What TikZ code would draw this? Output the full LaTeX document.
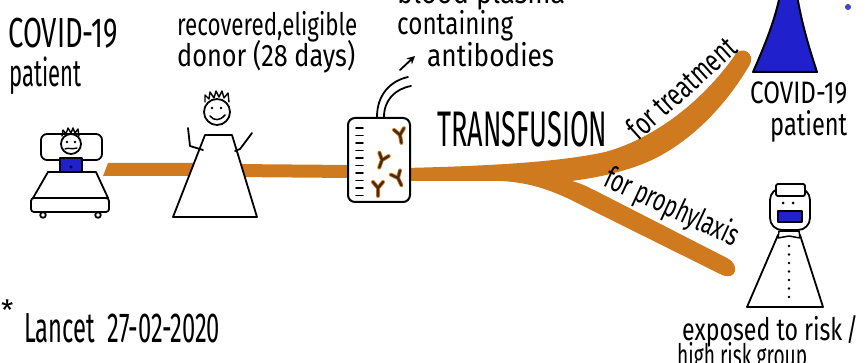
\documentclass[tikz,border=0pt]{standalone}
\usepackage{fontspec}
\setmainfont{Fira Sans}
\usetikzlibrary{arrows.meta}
\definecolor{band}{RGB}{208,122,32}
\definecolor{shirt}{RGB}{32,32,205}
\definecolor{abbrown}{RGB}{70,42,18}
\newcommand\fs[1]{\fontsize{#1}{#1}\selectfont}
\newcommand\fitw[2]{\resizebox{#1}{\height}{#2}}
% one antibody (a small Y) at x, y, turned by an angle
\newcommand\antibody[3]{%
  \begin{scope}[shift={(#1,#2)},rotate=#3]
    \draw[band,line width=4pt,line cap=round] (0,0)--(0,8) (0,0)--(-5,-6) (0,0)--(5,-6);
    \draw[abbrown,line width=2.3pt,line cap=round] (0,0)--(0,8) (0,0)--(-5,-6) (0,0)--(5,-6);
  \end{scope}}
\begin{document}
\begin{tikzpicture}[x=1pt,y=-1pt,
  ink/.style={draw=black,line width=1.8pt,line cap=round,line join=round},
  lbl/.style={inner sep=0pt,anchor=base west,text=black}]
\useasboundingbox (0,0) rectangle (866,363);
\clip (0,0) rectangle (866,363);
\fill[white] (0,0) rectangle (866,363);

% ---------- orange transfusion line ----------
\fill[band] (103,176) -- (108,163) -- (205,163) -- (205,176) -- cycle;
\fill[band] (232,164) -- (352,165) -- (352,178) -- (232,177) -- cycle;
\fill[band] (405,168)
  .. controls (490,166) and (560,162) .. (605,152)
  .. controls (650,140) and (700,105) .. (735,55)
  .. controls (741,45) and (757,53) .. (749,66)
  .. controls (720,115) and (680,150) .. (640,165)
  .. controls (610,176) and (585,179) .. (572,181)
  .. controls (582,184) .. (600,193)
  -- (727,258)
  .. controls (740,264) and (737,281) .. (722,275)
  -- (567,198)
  .. controls (545,188) and (525,182) .. (500,181)
  -- (405,181) -- cycle;

% ---------- patient in bed ----------
\draw[ink,fill=white,rounded corners=6pt] (41,134) rectangle (102,160);
\draw[ink,fill=shirt] (60,158) rectangle (82,172);
\fill[black] (71,167) circle (1.6);
\draw[ink,fill=white] (71,144) circle (10);
\draw[ink,line width=1.4pt] (62,136) -- (63,130) -- (66,134) -- (68,128) -- (71,133) -- (73,128) -- (75,133) -- (78,129) -- (79,136);
\fill (67,142) circle (1.3) (75,142) circle (1.3);
\draw[ink,line width=1.4pt] (65,149) .. controls (68,147) and (71,150) .. (77,148);
\draw[ink,fill=white] (48,172) -- (96,172) -- (108,198) -- (33,198) -- cycle;
\draw[ink,fill=white,rounded corners=3pt] (31,198) rectangle (109,212);
\draw[ink,fill=white] (43,215) circle (2.8) (98,215) circle (2.8);

% ---------- recovered donor ----------
\draw[ink,fill=white] (205,135) -- (232,135) -- (257,217) -- (173,217) -- cycle;
\draw[ink,fill=white] (217,112) circle (13);
\draw[ink,line width=1.4pt] (205,102) -- (205,95) -- (209,99) -- (210,92) -- (214,98) -- (216,91) -- (219,97) -- (222,91) -- (224,98) -- (228,93) -- (229,102);
\fill (212,108) circle (1.4) (221,108) circle (1.4);
\draw[ink,line width=1.5pt] (210,116) .. controls (214,121) and (220,121) .. (225,115);
\draw[ink] (188,128) -- (190,146) -- (203,150);
\draw[ink] (235,151) -- (240,149) -- (252,133);

% ---------- plasma bag ----------
\draw[ink,fill=white,rounded corners=7pt,line width=2pt] (348,118) rectangle (410,202);
\foreach \k in {0,...,9}
  \draw[ink,line width=1.6pt] (356,{128+7.5*\k}) -- (363,{128+7.5*\k});
\antibody{400}{135}{10}
\antibody{382}{160}{-20}
\antibody{398}{178}{25}
\antibody{378}{188}{0}
\draw[ink] (377,117) .. controls (377,95) and (390,81) .. (408,77);
\draw[ink] (384,117) .. controls (384,100) and (395,89) .. (411,86);
\draw[ink,-{Stealth[length=8pt,width=8pt]}] (400,70) -- (415,56);

% ---------- treated patient ----------
\draw[ink,fill=shirt,line width=2pt] (753,72) .. controls (765,45) and (775,20) .. (780,-5)
  -- (797,-5) .. controls (801,20) and (808,45) .. (817,72) -- cycle;
\fill[shirt!85!white] (848,7) circle (3);

% ---------- person at risk ----------
\draw[ink,fill=white] (778,235) -- (800,235) -- (823,307) -- (747,307) -- cycle;
\draw[ink,line width=1.5pt,fill=white] (779,231) -- (799,231) -- (800,238) -- (789,236) -- (778,238) -- cycle;
\foreach \k in {0,...,6} \fill (789,{246+8.5*\k}) circle (1.3);
\draw[ink,fill=white,rounded corners=12pt] (770,188) rectangle (810,230);
\draw[ink,fill=white,rounded corners=2pt] (776,184) rectangle (805,196);
\fill (783,203) circle (1.5) (793,203) circle (1.5);
\draw[ink,fill=shirt,line width=1.6pt] (778,211) rectangle (802,222);

% ---------- labels ----------
\node[lbl,font=\fs{42}] (covidA) at (8,48) {\fitw{110pt}{COVID-19}};
\node[lbl,font=\fs{38}] (patientA) at (9,87) {\fitw{72pt}{patient}};
\node[lbl,font=\fs{31}] (donorA) at (177,36) {\fitw{180pt}{recovered,eligible}};
\node[lbl,font=\fs{31}] (donorB) at (177,67) {\fitw{178pt}{donor (28 days)}};
\node[lbl,font=\fs{31}] (plasmaA) at (397,4) {\fitw{168pt}{blood plasma}};
\node[lbl,font=\fs{31}] (plasmaB) at (397,35) {\fitw{116pt}{containing}};
\node[lbl,font=\fs{31}] (plasmaC) at (427,67) {\fitw{127pt}{antibodies}};
\node[lbl,font=\fs{50}] (transf) at (437,147) {\fitw{170pt}{TRANSFUSION}};
\node[lbl,font=\fs{31},anchor=base,rotate=42] (treat) at (689,96) {\fitw{135pt}{for treatment}};
\node[lbl,font=\fs{31},anchor=base,rotate=-25] (proph) at (668,216) {\fitw{145pt}{for prophylaxis}};
\node[lbl,font=\fs{31}] (covidB) at (750,104) {\fitw{97pt}{COVID-19}};
\node[lbl,font=\fs{32}] (patientB) at (770,136) {\fitw{77pt}{patient}};
\node[lbl,font=\fs{31}] (riskA) at (682,340) {\fitw{176pt}{exposed to risk\,/}};
\node[lbl,font=\fs{31}] (riskB) at (677,366) {\fitw{130pt}{high risk group}};
\node[lbl,font=\fs{28}] (star) at (1,320) {*};
\node[lbl,font=\fs{42}] (lancet) at (24,342) {\fitw{196pt}{Lancet\ \ 27-02-2020}};
\end{tikzpicture}
\end{document}
